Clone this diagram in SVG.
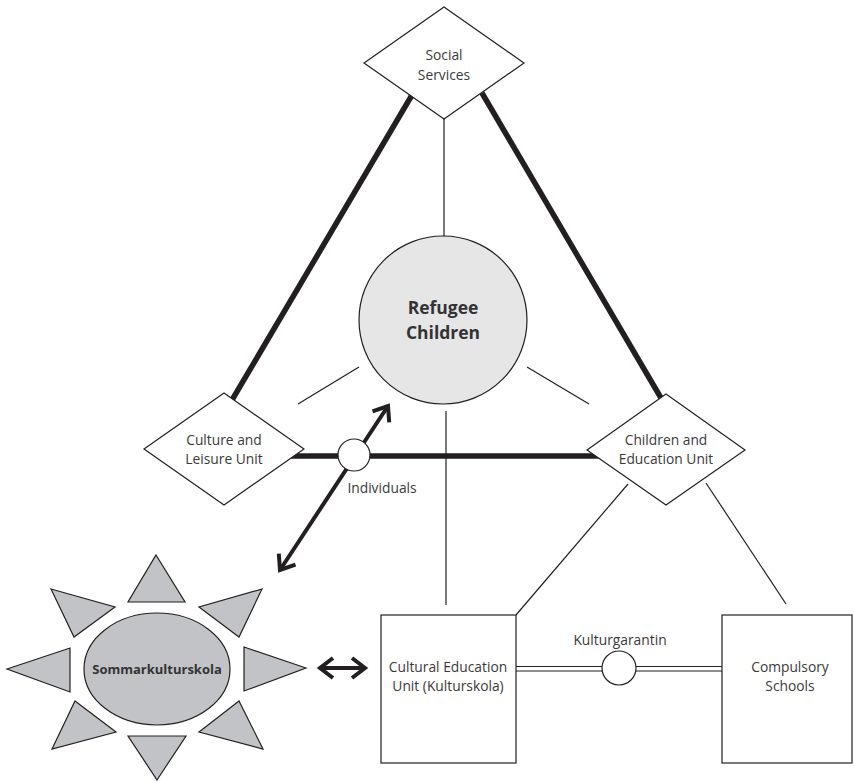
<svg xmlns="http://www.w3.org/2000/svg" width="854" height="781" viewBox="0 0 854 781">
<style>
  .thin{stroke:#231f20;stroke-width:1.2;fill:none}
  .thick{stroke:#231f20;stroke-width:5.5;fill:none}
  .shape{stroke:#231f20;stroke-width:1.2;fill:#fff}
  .ray{stroke:#231f20;stroke-width:1.2;fill:#c2c3c6}
  .lbl{font-family:"Open Sans","Noto Sans",sans-serif;font-size:13.8px;fill:#3a3a3a;text-anchor:middle}
  .bold{font-family:"Open Sans","Noto Sans",sans-serif;font-weight:bold;fill:#333;text-anchor:middle}
</style>
<defs>
  <marker id="chev" markerUnits="userSpaceOnUse" viewBox="-18 -13 22 26" refX="0" refY="0" markerWidth="22" markerHeight="26" orient="auto-start-reverse">
    <path d="M -13 -10 L 0 0 L -13 10" fill="none" stroke="#231f20" stroke-width="4"/>
  </marker>
</defs>
<rect width="854" height="781" fill="#fff"/>
<g id="connectors">
  <line class="thick" x1="412" y1="95" x2="232" y2="400"/>
  <line class="thick" x1="482" y1="93" x2="661" y2="398"/>
  <line class="thick" x1="290" y1="456" x2="602" y2="456"/>
  <line class="thin" x1="444" y1="119" x2="444" y2="236"/>
  <line class="thin" x1="446" y1="411" x2="446" y2="605"/>
  <line class="thin" x1="298" y1="404" x2="359" y2="367"/>
  <line class="thin" x1="527" y1="367" x2="589" y2="404"/>
  <line class="thin" x1="628" y1="484" x2="516" y2="615"/>
  <line class="thin" x1="706" y1="483" x2="786" y2="604"/>
  <line class="thin" x1="516" y1="666.5" x2="722" y2="666.5"/>
  <line class="thin" x1="516" y1="671" x2="722" y2="671"/>
  <line x1="280" y1="570" x2="388" y2="406" stroke="#231f20" stroke-width="4" marker-start="url(#chev)" marker-end="url(#chev)"/>
  <line x1="320" y1="668" x2="365" y2="668" stroke="#231f20" stroke-width="4" marker-start="url(#chev)" marker-end="url(#chev)"/>
</g>
<g id="social-services">
  <polygon class="shape" points="444,7 524,63 444,119 364,63"/>
  <text class="lbl" x="444" y="60">Social</text>
  <text class="lbl" x="444" y="80">Services</text>
</g>
<g id="refugee-children">
  <circle cx="443" cy="320" r="84" fill="#e6e6e7" stroke="#231f20" stroke-width="1.2"/>
  <text class="bold" x="443" y="314" font-size="17.5">Refugee</text>
  <text class="bold" x="443" y="339" font-size="17.5">Children</text>
</g>
<g id="culture-leisure">
  <polygon class="shape" points="224,393 304,449 224,505 144,449"/>
  <text class="lbl" x="224" y="445">Culture and</text>
  <text class="lbl" x="224" y="464">Leisure Unit</text>
</g>
<g id="children-education">
  <polygon class="shape" points="666,394 745,450 666,505 587,450"/>
  <text class="lbl" x="666" y="445">Children and</text>
  <text class="lbl" x="666" y="464">Education Unit</text>
</g>
<g id="individuals">
  <circle class="shape" cx="354" cy="455" r="16"/>
  <text class="lbl" x="382" y="493">Individuals</text>
</g>
<g id="sommarkulturskola">
  <polygon class="ray" points="156,555 185,602 128,602"/>
  <polygon class="ray" points="157,780 186,736 128,736"/>
  <polygon class="ray" points="7,669 70,648 70,692"/>
  <polygon class="ray" points="306,668 244,647 244,691"/>
  <polygon class="ray" points="51,589 115,607 74,637"/>
  <polygon class="ray" points="262,589 199,607 239,637"/>
  <polygon class="ray" points="75,701 116,732 52,749"/>
  <polygon class="ray" points="239,701 199,732 263,749"/>
  <ellipse class="ray" cx="157" cy="669" rx="73" ry="56"/>
  <text class="bold" x="157" y="674" font-size="13">Sommarkulturskola</text>
</g>
<g id="cultural-education">
  <rect class="shape" x="381" y="615" width="135" height="148"/>
  <text class="lbl" x="448" y="672">Cultural Education</text>
  <text class="lbl" x="448" y="691">Unit (Kulturskola)</text>
</g>
<g id="kulturgarantin">
  <circle class="shape" cx="619" cy="668" r="17"/>
  <text class="lbl" x="620" y="645">Kulturgarantin</text>
</g>
<g id="compulsory-schools">
  <rect class="shape" x="722" y="615" width="130" height="148"/>
  <text class="lbl" x="790" y="672">Compulsory</text>
  <text class="lbl" x="790" y="691">Schools</text>
</g>
</svg>
